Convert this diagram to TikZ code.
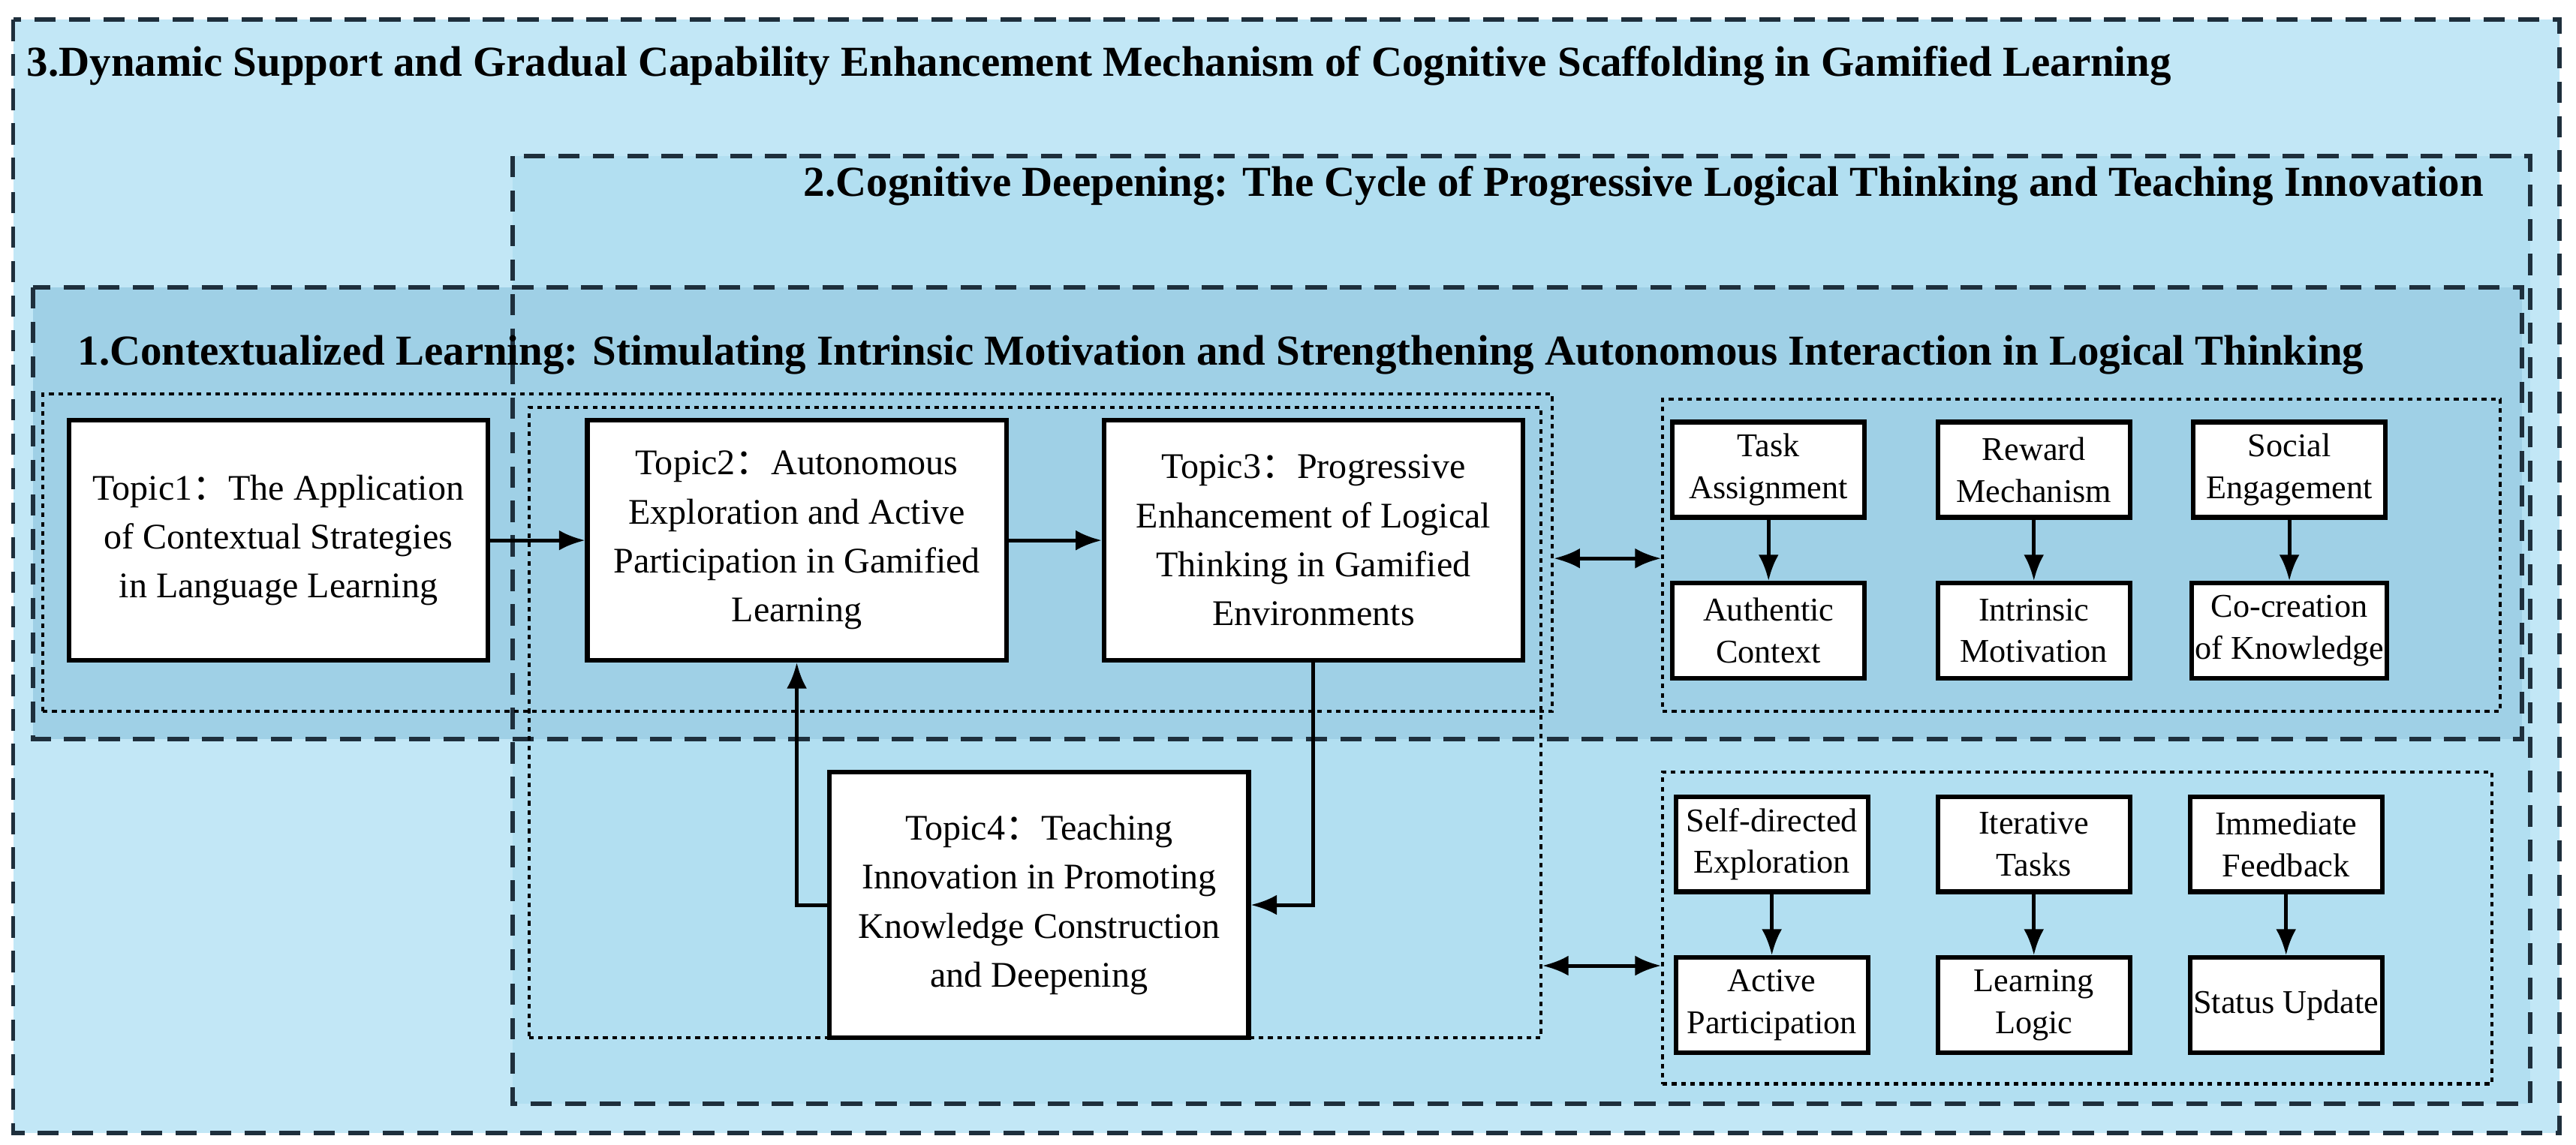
\documentclass[tikz,border=0pt]{standalone}
\usepackage{fontspec}
\setmainfont{Liberation Serif}
\newfontfamily\cjk{Noto Sans CJK SC}
\usetikzlibrary{arrows.meta}
\definecolor{bgthree}{HTML}{C2E7F6}
\definecolor{bgtwo}{HTML}{B2DFF1}
\definecolor{bgone}{HTML}{9FD0E6}
\definecolor{dashc}{HTML}{1E2F3C}
\newcommand{\fc}{{\cjk ：}}
\tikzset{
  x=0.02cm,y=-0.02cm,
  dashbox/.style={draw=dashc,line width=1.5pt,dash pattern=on 0.26cm off 0.16cm},
  dotbox/.style={draw=black,line width=1.1pt,dash pattern=on 1.6pt off 1.6pt,rectangle,inner sep=0pt},
  topic/.style={draw=black,fill=white,line width=1.6pt,minimum width=5.1cm,minimum height=2.92cm,align=center,font=\fontsize{12.5}{17}\selectfont,inner sep=1pt},
  sbox/.style={draw=black,fill=white,line width=1.6pt,minimum width=2.34cm,minimum height=1.16cm,align=center,font=\fontsize{11.5}{14.5}\selectfont,inner sep=1pt},
  ttl/.style={font=\bfseries\fontsize{14.8}{18}\selectfont,inner sep=0pt},
  arr/.style={-{Latex[length=9pt,width=7pt]},line width=1.3pt},
  darr/.style={{Latex[length=9pt,width=7pt]}-{Latex[length=9pt,width=7pt]},line width=1.3pt}
}
\begin{document}
\begin{tikzpicture}
\useasboundingbox[fill=white] (0,0) rectangle (1568,697);
\fill[bgthree] (8,12) rectangle (1558,690);
\fill[bgtwo] (312,95) rectangle (1540,672);
\fill[bgone] (20,175) rectangle (1535,450);
\draw[dashbox] (8,12) rectangle (1558,690);
\draw[dashbox] (312,95) rectangle (1540,672);
\draw[dashbox] (20,175) rectangle (1535,450);
\node[ttl,anchor=west] (t3t) at (16,40) {3.Dynamic Support and Gradual Capability Enhancement Mechanism of Cognitive Scaffolding in Gamified Learning};
\node[ttl,anchor=east] (t2t) at (1512,113) {2.Cognitive Deepening: The Cycle of Progressive Logical Thinking and Teaching Innovation};
\node[ttl,anchor=west] (t1t) at (47,216) {1.Contextualized Learning: Stimulating Intrinsic Motivation and Strengthening Autonomous Interaction in Logical Thinking};
\node[dotbox,minimum width=18.38cm,minimum height=3.86cm] (A) at (485.5,336.5) {};
\node[dotbox,minimum width=12.32cm,minimum height=7.68cm] (B) at (630,440) {};
\node[dotbox,minimum width=10.2cm,minimum height=3.8cm] (R1) at (1267,338) {};
\node[dotbox,minimum width=10.1cm,minimum height=3.8cm] (R2) at (1264.5,565) {};
\node[topic] (t1) at (169.5,329) {Topic1\fc The Application\\of Contextual Strategies\\in Language Learning};
\node[topic] (t2) at (485,329) {Topic2\fc Autonomous\\Exploration and Active\\Participation in Gamified\\Learning};
\node[topic] (t3) at (799.5,329) {Topic3\fc Progressive\\Enhancement of Logical\\Thinking in Gamified\\Environments};
\node[topic,minimum height=3.24cm] (t4) at (632.5,551) {Topic4\fc Teaching\\Innovation in Promoting\\Knowledge Construction\\and Deepening};
\draw[arr] (t1) -- (t2);
\draw[arr] (t2) -- (t3);
\draw[arr] (t3.south) |- (t4.east);
\draw[arr] (t4.west) -| (t2.south);
\node[sbox] (a1) at (1076.5,286) {Task\\Assignment};
\node[sbox] (a2) at (1238,286) {Reward\\Mechanism};
\node[sbox] (a3) at (1393.5,286) {Social\\Engagement};
\node[sbox] (b1) at (1076.5,384) {Authentic\\Context};
\node[sbox] (b2) at (1238,384) {Intrinsic\\Motivation};
\node[sbox] (b3) at (1393.5,384) {Co-creation\\of Knowledge};
\node[sbox] (c1) at (1078.5,514) {Self-directed\\Exploration};
\node[sbox] (c2) at (1238,514) {Iterative\\Tasks};
\node[sbox] (c3) at (1391.5,514) {Immediate\\Feedback};
\node[sbox] (d1) at (1078.5,612) {Active\\Participation};
\node[sbox] (d2) at (1238,612) {Learning\\Logic};
\node[sbox] (d3) at (1391.5,612) {Status Update};
\foreach \u/\v in {a1/b1,a2/b2,a3/b3,c1/d1,c2/d2,c3/d3} \draw[arr] (\u) -- (\v);
\draw[darr] (A.east |- 0,340) -- (R1.west |- 0,340);
\draw[darr] (B.east |- 0,588) -- (R2.west |- 0,588);
\end{tikzpicture}
\end{document}
